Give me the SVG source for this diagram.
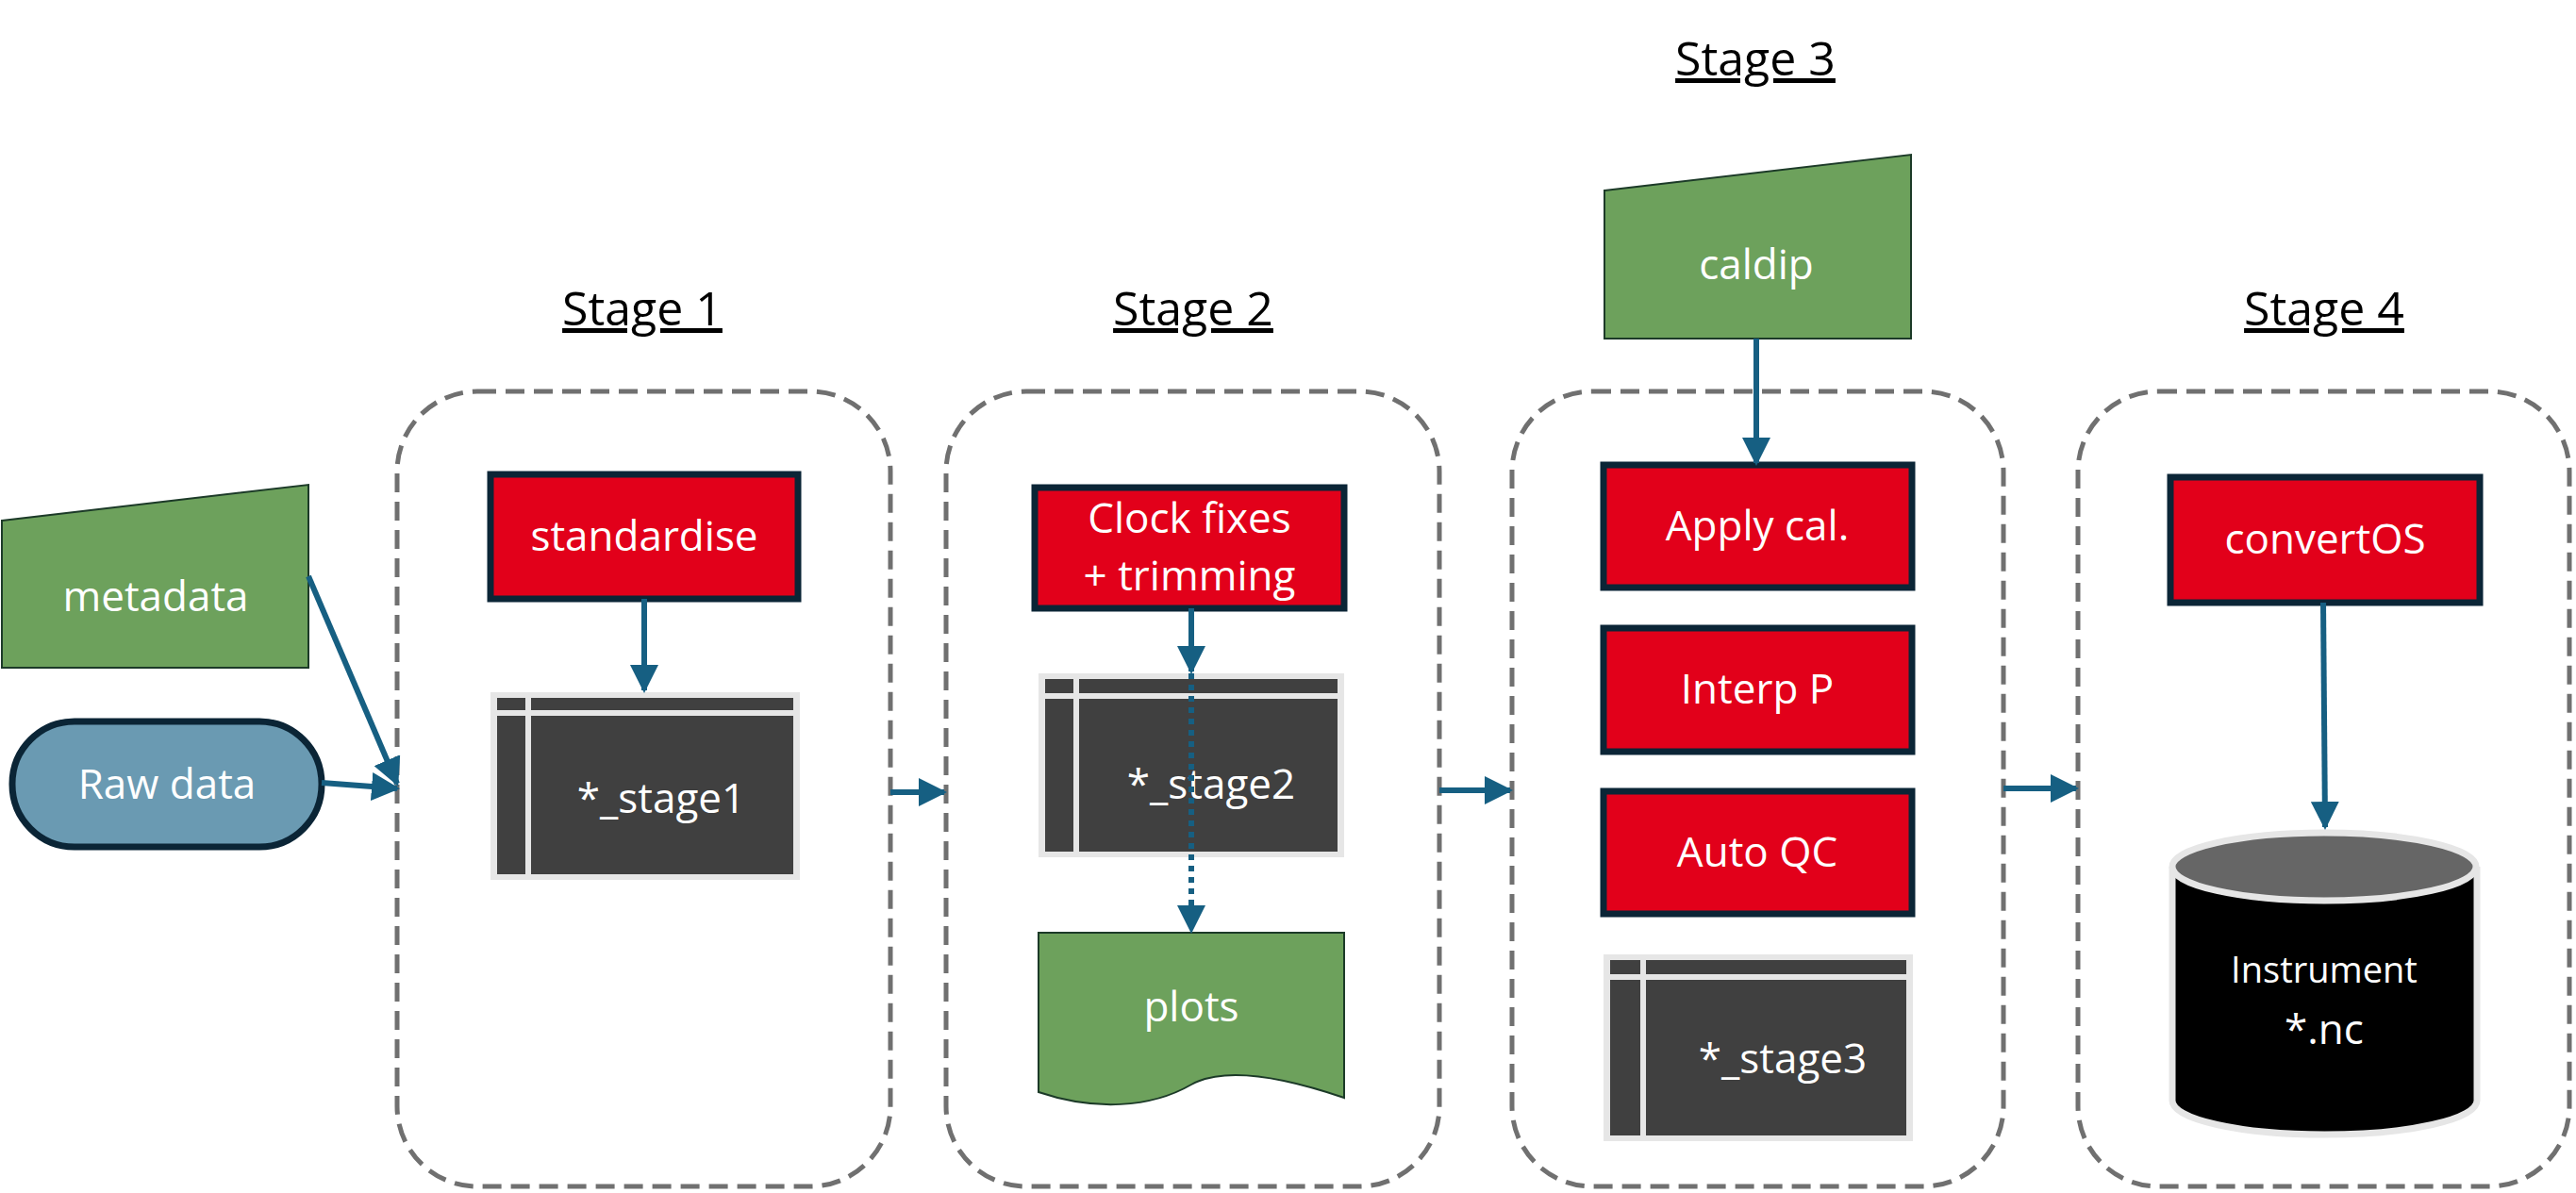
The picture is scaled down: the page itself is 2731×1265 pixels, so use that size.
<svg xmlns="http://www.w3.org/2000/svg" width="2731" height="1265" viewBox="0 0 2731 1265">
<style>
text{font-family:"Open Sans","Noto Sans","Liberation Sans",sans-serif;fill:#fff;text-anchor:middle}
.title{fill:#000;font-size:50px;text-decoration:underline}
.stage{fill:none;stroke:#707070;stroke-width:5;stroke-dasharray:20 10}
.proc{fill:#e2001a;stroke:#0b2536;stroke-width:7}
.pt{font-size:44px}
.green{fill:#6da15c;stroke:#1c3a28;stroke-width:2}
.conn{stroke:#165f82;stroke-width:6;fill:none}
</style>
<defs>
<marker id="ah" viewBox="0 0 10 10" refX="9" refY="5" markerWidth="5" markerHeight="5" orient="auto"><path d="M0,0L10,5L0,10z" fill="#165f82"/></marker>
</defs>
<g id="titles">
<text class="title" x="681" y="345">Stage 1</text>
<text class="title" x="1265" y="345">Stage 2</text>
<text class="title" x="1861" y="80">Stage 3</text>
<text class="title" x="2464" y="345">Stage 4</text>
</g>
<g id="stage1"><rect class="stage" x="421" y="415" width="523" height="843" rx="85"/></g>
<g id="stage2"><rect class="stage" x="1003" y="415" width="523" height="843" rx="85"/></g>
<g id="stage3"><rect class="stage" x="1603" y="415" width="521" height="843" rx="85"/></g>
<g id="stage4"><rect class="stage" x="2203" y="415" width="521" height="843" rx="85"/></g>
<g id="metadata"><path class="green" d="M2,552L327,514L327,708L2,708z"/><text class="pt" x="165" y="648">metadata</text></g>
<g id="rawdata"><rect x="13" y="765" width="328" height="133" rx="66" fill="#6a9ab2" stroke="#0b2536" stroke-width="7"/><text class="pt" x="177" y="847">Raw data</text></g>
<g id="standardise"><rect class="proc" x="520" y="503" width="326" height="132"/><text class="pt" x="683" y="584">standardise</text></g>
<g id="stage1table"><rect x="520" y="734" width="328" height="199" fill="#e6e6e6"/><rect x="527" y="740" width="314" height="187" fill="#404040"/><path d="M527,756H841M560,740V927" stroke="#e6e6e6" stroke-width="6"/><text class="pt" x="701" y="862">*_stage1</text></g>
<g id="clockfixes"><rect class="proc" x="1097" y="517" width="328" height="128"/><text class="pt" x="1261" y="565">Clock fixes</text><text class="pt" x="1261" y="626">+ trimming</text></g>
<g id="stage2table"><rect x="1101" y="714" width="324" height="195" fill="#e6e6e6"/><rect x="1108" y="720" width="310" height="183" fill="#404040"/><path d="M1108,738H1418M1141,720V903" stroke="#e6e6e6" stroke-width="6"/><text class="pt" x="1284" y="847">*_stage2</text></g>
<g id="plots"><path class="green" d="M1101,989H1425V1164C1340,1135 1290,1135 1263,1150C1220,1175 1160,1178 1101,1158z"/><text class="pt" x="1263" y="1083">plots</text></g>
<g id="caldip"><path class="green" d="M1701,202L2026,164L2026,359L1701,359z"/><text class="pt" x="1862" y="296">caldip</text></g>
<g id="applycal"><rect class="proc" x="1700" y="493" width="327" height="130"/><text class="pt" x="1863" y="573">Apply cal.</text></g>
<g id="interpp"><rect class="proc" x="1700" y="666" width="327" height="131"/><text class="pt" x="1863" y="746">Interp P</text></g>
<g id="autoqc"><rect class="proc" x="1700" y="839" width="327" height="130"/><text class="pt" x="1863" y="919">Auto QC</text></g>
<g id="stage3table"><rect x="1700" y="1012" width="328" height="198" fill="#e6e6e6"/><rect x="1707" y="1018" width="314" height="186" fill="#404040"/><path d="M1707,1036H2021M1742,1018V1204" stroke="#e6e6e6" stroke-width="6"/><text class="pt" x="1890" y="1138">*_stage3</text></g>
<g id="convertos"><rect class="proc" x="2301" y="506" width="328" height="133"/><text class="pt" x="2465" y="587">convertOS</text></g>
<g id="instrument"><path d="M2303,919V1167A161,36 0 0 0 2626,1167V919" fill="#000" stroke="#e6e6e6" stroke-width="7"/><ellipse cx="2464" cy="919" rx="161" ry="36" fill="#666" stroke="#e6e6e6" stroke-width="7"/><text x="2464" y="1042" font-size="38">Instrument</text><text x="2464" y="1107" font-size="44">*.nc</text></g>
<g id="connectors">
<path class="conn" marker-end="url(#ah)" d="M327,611L421,831"/>
<path class="conn" marker-end="url(#ah)" d="M341,830L421,836"/>
<path class="conn" marker-end="url(#ah)" d="M683,635V732" stroke-width="4"/>
<path class="conn" marker-end="url(#ah)" d="M944,840H1001" stroke-width="8"/>
<path class="conn" marker-end="url(#ah)" d="M1263,645V712" stroke-width="4"/>
<path class="conn" marker-end="url(#ah)" d="M1263,714V987" stroke-width="4" stroke-dasharray="6 6"/>
<path class="conn" marker-end="url(#ah)" d="M1526,838H1601" stroke-width="8"/>
<path class="conn" marker-end="url(#ah)" d="M1862,359V491" stroke-width="4"/>
<path class="conn" marker-end="url(#ah)" d="M2124,836H2201" stroke-width="8"/>
<path class="conn" marker-end="url(#ah)" d="M2463,639L2465,877" stroke-width="7"/>
</g>
</svg>
